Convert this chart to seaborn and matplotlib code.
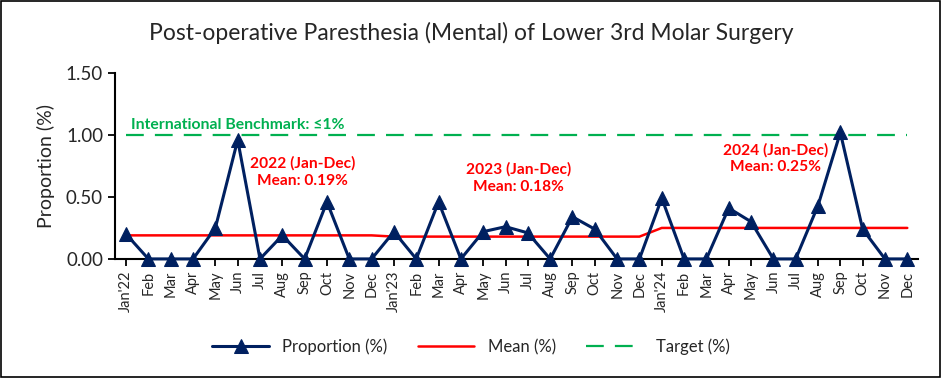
import matplotlib.pyplot as plt
import matplotlib.patches as mpatches
import seaborn as sns
import pandas as pd

# monthly labels Jan'22 .. Dec'24
months = ['Jan', 'Feb', 'Mar', 'Apr', 'May', 'Jun', 'Jul', 'Aug', 'Sep', 'Oct', 'Nov', 'Dec']
years = ["'22", "'23", "'24"]
labels = []
for yr in years:
    labels += [months[0] + yr] + months[1:]

prop_2022 = [0.20, 0, 0, 0, 0.25, 0.96, 0, 0.19, 0, 0.46, 0, 0]
prop_2023 = [0.22, 0, 0.46, 0, 0.22, 0.26, 0.21, 0, 0.34, 0.24, 0, 0]
prop_2024 = [0.49, 0, 0, 0.41, 0.30, 0, 0, 0.43, 1.02, 0.24, 0, 0]
year_means = [0.19, 0.18, 0.25]
target = 1.0

proportion = prop_2022 + prop_2023 + prop_2024
mean_line = [m for m in year_means for _ in range(12)]

df = pd.DataFrame({
    'idx': range(len(labels)),
    'label': labels,
    'proportion': proportion,
    'mean': mean_line,
    'target': [target] * len(labels),
})

sns.set_theme(style="white")
plt.rcParams['font.family'] = ['Lato', 'DejaVu Sans']

NAVY = '#002060'
RED = '#FF0000'
GREEN = '#00B050'

fig = plt.figure(figsize=(9.42, 3.78), dpi=100)
ax = fig.add_axes([0.122, 0.315, 0.853, 0.492])

sns.lineplot(data=df, x='idx', y='target', ax=ax, color=GREEN, linewidth=1.6,
             label='Target (%)')
sns.lineplot(data=df, x='idx', y='mean', ax=ax, color=RED, linewidth=1.8, label='Mean (%)')
sns.lineplot(data=df, x='idx', y='proportion', ax=ax, color=NAVY, linewidth=2.2,
             marker='^', markersize=10, markeredgecolor=NAVY, label='Proportion (%)',
             clip_on=False, zorder=5)
ax.lines[0].set_linestyle((0, (8, 5)))

ax.set_xlim(-0.5, len(labels) - 0.5)
ax.set_ylim(0, 1.5)
ax.set_yticks([0, 0.5, 1.0, 1.5])
ax.set_yticklabels([f'{v:.2f}' for v in [0, 0.5, 1.0, 1.5]], fontsize=13.5)
ax.set_xticks(df['idx'])
ax.set_xticklabels(labels, rotation=90, fontsize=10.5)
ax.set_xlabel('')
ax.set_ylabel('Proportion (%)', fontsize=14, labelpad=8)

for side in ['top', 'right']:
    ax.spines[side].set_visible(False)
for side in ['left', 'bottom']:
    ax.spines[side].set_color('black')
    ax.spines[side].set_linewidth(1.5)
ax.tick_params(axis='both', direction='out', length=5, width=1.3, color='black', bottom=True, left=True)

ax.text(0.2, 1.08, 'International Benchmark: \u22641%', color=GREEN, fontsize=11.3,
        fontweight='bold', ha='left', va='center')
ax.text(7.9, 0.70, '2022 (Jan-Dec)\nMean: 0.19%', color=RED, fontsize=11.2,
        fontweight='bold', ha='center', va='center', linespacing=1.3)
ax.text(17.6, 0.65, '2023 (Jan-Dec)\nMean: 0.18%', color=RED, fontsize=11.2,
        fontweight='bold', ha='center', va='center', linespacing=1.3)
ax.text(29.1, 0.81, '2024 (Jan-Dec)\nMean: 0.25%', color=RED, fontsize=11.2,
        fontweight='bold', ha='center', va='center', linespacing=1.3)

fig.text(0.5, 0.912, 'Post-operative Paresthesia (Mental) of Lower 3rd Molar Surgery',
         fontsize=16.5, ha='center', va='center')

handles, lbls = ax.get_legend_handles_labels()
order = [2, 1, 0]
ax.legend([handles[i] for i in order], [lbls[i] for i in order], ncol=3,
          loc='center', bbox_to_anchor=(0.5, 0.082), bbox_transform=fig.transFigure,
          frameon=False, fontsize=12, handlelength=3.4, columnspacing=1.8)

fig.patches.append(mpatches.Rectangle((0.001, 0.002), 0.997, 0.995, transform=fig.transFigure,
                                      fill=False, edgecolor='black', linewidth=1.2))

fig.savefig('out.png', dpi=100)
